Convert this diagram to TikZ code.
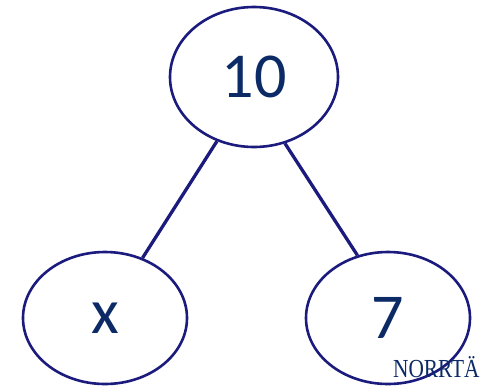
\documentclass[tikz,border=0pt]{standalone}
\usepackage{fontspec}
\setmainfont{Carlito}
\newfontfamily\logofont{Liberation Serif}
\usetikzlibrary{positioning, shapes.geometric}
\definecolor{rim}{HTML}{1B1B7E}
\definecolor{ink}{HTML}{0B2A66}

\begin{document}
\begin{tikzpicture}[x=1pt, y=-1pt,
        vertex/.style={ellipse, draw=rim, line width=2.6pt, inner sep=0pt, minimum width=164pt, minimum height=132pt, text=ink, font=\fontsize{64}{64}\selectfont},
        branch/.style={draw=rim, line width=3.3pt}
    ]
            \useasboundingbox (0,0) rectangle (481,386);
            \clip (0,0) rectangle (481,386);
            \node[vertex, minimum width=168pt, minimum height=140pt] (root) at (254,77) {10};
            \node[vertex, on grid, below left=241pt and 149pt of root] (left) {x};
            \node[vertex, on grid, below right=241pt and 134pt of root] (right) {7};

            % Branches
            \draw[branch] (root.240) -- (left.58);
            \draw[branch] (root.295) -- (right.116);

            % Logo
            \node[anchor=base west, inner sep=0pt, text=ink, xscale=0.82, font=\logofont\fontsize{26}{26}\selectfont] (logo) at (393,377) {NORRTÄ};
    \end{tikzpicture}
\end{document}
